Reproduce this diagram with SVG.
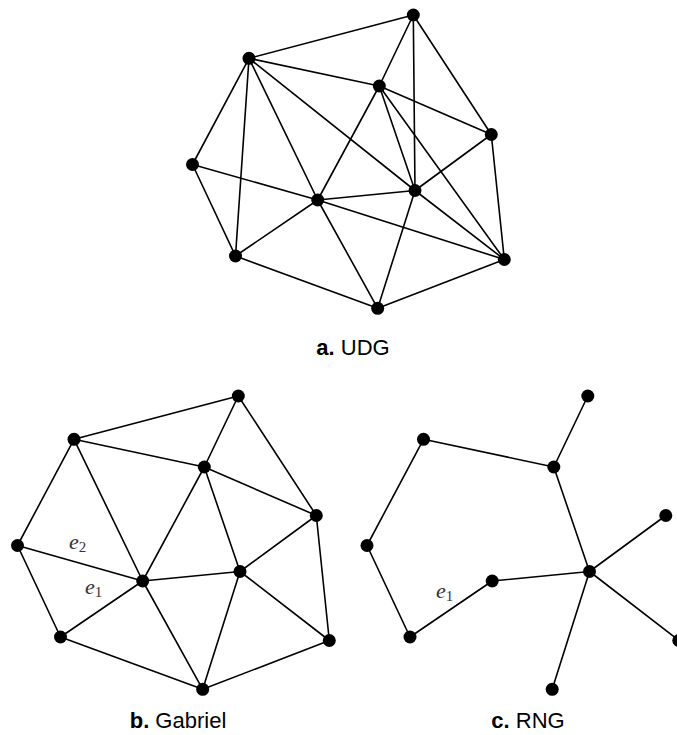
<svg xmlns="http://www.w3.org/2000/svg" width="677" height="735" viewBox="0 0 677 735">
  <style>
    .edges line { stroke: #000; stroke-width: 1.6; stroke-linecap: round; }
    .node circle { fill: #000; }
    .caption { font-family: "Liberation Sans", Arial, sans-serif; font-size: 22px; fill: #000; text-anchor: middle; }
    .caption .tag { font-weight: bold; }
    .elabel { font-family: "Liberation Serif", "Times New Roman", serif; font-size: 22px; fill: #333; }
    .elabel .var { font-style: italic; }
    .elabel .sub { font-size: 15px; }
  </style>
  <rect width="677" height="735" fill="#fff"/>

  <!-- a. Unit disk graph -->
  <g id="udg">
    <g class="edges" id="udg-edges">
      <line x1="413.3" y1="15" x2="249" y2="58.3"/>
      <line x1="413.3" y1="15" x2="379.3" y2="86"/>
      <line x1="413.3" y1="15" x2="415" y2="190.5"/>
      <line x1="413.3" y1="15" x2="491.3" y2="134.5"/>
      <line x1="249" y1="58.3" x2="379.3" y2="86"/>
      <line x1="249" y1="58.3" x2="415" y2="190.5"/>
      <line x1="249" y1="58.3" x2="317.7" y2="200"/>
      <line x1="249" y1="58.3" x2="235.5" y2="256"/>
      <line x1="249" y1="58.3" x2="192.5" y2="164.5"/>
      <line x1="379.3" y1="86" x2="491.3" y2="134.5"/>
      <line x1="379.3" y1="86" x2="317.7" y2="200"/>
      <line x1="379.3" y1="86" x2="415" y2="190.5"/>
      <line x1="379.3" y1="86" x2="504.3" y2="259.5"/>
      <line x1="491.3" y1="134.5" x2="415" y2="190.5"/>
      <line x1="491.3" y1="134.5" x2="504.3" y2="259.5"/>
      <line x1="192.5" y1="164.5" x2="317.7" y2="200"/>
      <line x1="192.5" y1="164.5" x2="235.5" y2="256"/>
      <line x1="317.7" y1="200" x2="235.5" y2="256"/>
      <line x1="317.7" y1="200" x2="415" y2="190.5"/>
      <line x1="317.7" y1="200" x2="377.7" y2="308.3"/>
      <line x1="317.7" y1="200" x2="504.3" y2="259.5"/>
      <line x1="415" y1="190.5" x2="504.3" y2="259.5"/>
      <line x1="415" y1="190.5" x2="377.7" y2="308.3"/>
      <line x1="235.5" y1="256" x2="377.7" y2="308.3"/>
      <line x1="504.3" y1="259.5" x2="377.7" y2="308.3"/>
    </g>
    <g id="udg-A" class="node"><circle cx="413.3" cy="15" r="6.5"/></g>
    <g id="udg-B" class="node"><circle cx="249" cy="58.3" r="6.5"/></g>
    <g id="udg-C" class="node"><circle cx="379.3" cy="86" r="6.5"/></g>
    <g id="udg-D" class="node"><circle cx="491.3" cy="134.5" r="6.5"/></g>
    <g id="udg-E" class="node"><circle cx="192.5" cy="164.5" r="6.5"/></g>
    <g id="udg-F" class="node"><circle cx="317.7" cy="200" r="6.5"/></g>
    <g id="udg-G" class="node"><circle cx="415" cy="190.5" r="6.5"/></g>
    <g id="udg-H" class="node"><circle cx="235.5" cy="256" r="6.5"/></g>
    <g id="udg-I" class="node"><circle cx="504.3" cy="259.5" r="6.5"/></g>
    <g id="udg-J" class="node"><circle cx="377.7" cy="308.3" r="6.5"/></g>
    <text class="caption" x="353" y="355"><tspan class="tag">a.</tspan> UDG</text>
  </g>

  <!-- b. Gabriel graph (same point set, shifted) -->
  <g id="gabriel">
    <g transform="translate(-175,381)">
      <g class="edges" id="gabriel-edges">
        <line x1="413.3" y1="15" x2="249" y2="58.3"/>
        <line x1="413.3" y1="15" x2="379.3" y2="86"/>
        <line x1="413.3" y1="15" x2="491.3" y2="134.5"/>
        <line x1="249" y1="58.3" x2="379.3" y2="86"/>
        <line x1="249" y1="58.3" x2="317.7" y2="200"/>
        <line x1="249" y1="58.3" x2="192.5" y2="164.5"/>
        <line x1="379.3" y1="86" x2="491.3" y2="134.5"/>
        <line x1="379.3" y1="86" x2="317.7" y2="200"/>
        <line x1="379.3" y1="86" x2="415" y2="190.5"/>
        <line x1="491.3" y1="134.5" x2="415" y2="190.5"/>
        <line x1="491.3" y1="134.5" x2="504.3" y2="259.5"/>
        <line x1="192.5" y1="164.5" x2="317.7" y2="200"/>
        <line x1="192.5" y1="164.5" x2="235.5" y2="256"/>
        <line x1="317.7" y1="200" x2="235.5" y2="256"/>
        <line x1="317.7" y1="200" x2="415" y2="190.5"/>
        <line x1="317.7" y1="200" x2="377.7" y2="308.3"/>
        <line x1="415" y1="190.5" x2="504.3" y2="259.5"/>
        <line x1="415" y1="190.5" x2="377.7" y2="308.3"/>
        <line x1="235.5" y1="256" x2="377.7" y2="308.3"/>
        <line x1="504.3" y1="259.5" x2="377.7" y2="308.3"/>
      </g>
      <g id="gabriel-A" class="node"><circle cx="413.3" cy="15" r="6.5"/></g>
      <g id="gabriel-B" class="node"><circle cx="249" cy="58.3" r="6.5"/></g>
      <g id="gabriel-C" class="node"><circle cx="379.3" cy="86" r="6.5"/></g>
      <g id="gabriel-D" class="node"><circle cx="491.3" cy="134.5" r="6.5"/></g>
      <g id="gabriel-E" class="node"><circle cx="192.5" cy="164.5" r="6.5"/></g>
      <g id="gabriel-F" class="node"><circle cx="317.7" cy="200" r="6.5"/></g>
      <g id="gabriel-G" class="node"><circle cx="415" cy="190.5" r="6.5"/></g>
      <g id="gabriel-H" class="node"><circle cx="235.5" cy="256" r="6.5"/></g>
      <g id="gabriel-I" class="node"><circle cx="504.3" cy="259.5" r="6.5"/></g>
      <g id="gabriel-J" class="node"><circle cx="377.7" cy="308.3" r="6.5"/></g>
    </g>
    <text class="elabel" x="69" y="549"><tspan class="var">e</tspan><tspan class="sub" dy="3">2</tspan></text>
    <text class="elabel" x="85" y="594"><tspan class="var">e</tspan><tspan class="sub" dy="3">1</tspan></text>
    <text class="caption" x="178" y="728"><tspan class="tag">b.</tspan> Gabriel</text>
  </g>

  <!-- c. Relative neighbourhood graph (same point set, shifted) -->
  <g id="rng">
    <g transform="translate(174.5,381)">
      <g class="edges" id="rng-edges">
        <line x1="413.3" y1="15" x2="379.3" y2="86"/>
        <line x1="249" y1="58.3" x2="379.3" y2="86"/>
        <line x1="249" y1="58.3" x2="192.5" y2="164.5"/>
        <line x1="379.3" y1="86" x2="415" y2="190.5"/>
        <line x1="491.3" y1="134.5" x2="415" y2="190.5"/>
        <line x1="192.5" y1="164.5" x2="235.5" y2="256"/>
        <line x1="317.7" y1="200" x2="415" y2="190.5"/>
        <line x1="317.7" y1="200" x2="235.5" y2="256"/>
        <line x1="415" y1="190.5" x2="504.3" y2="259.5"/>
        <line x1="415" y1="190.5" x2="377.7" y2="308.3"/>
      </g>
      <g id="rng-A" class="node"><circle cx="413.3" cy="15" r="6.5"/></g>
      <g id="rng-B" class="node"><circle cx="249" cy="58.3" r="6.5"/></g>
      <g id="rng-C" class="node"><circle cx="379.3" cy="86" r="6.5"/></g>
      <g id="rng-D" class="node"><circle cx="491.3" cy="134.5" r="6.5"/></g>
      <g id="rng-E" class="node"><circle cx="192.5" cy="164.5" r="6.5"/></g>
      <g id="rng-F" class="node"><circle cx="317.7" cy="200" r="6.5"/></g>
      <g id="rng-G" class="node"><circle cx="415" cy="190.5" r="6.5"/></g>
      <g id="rng-H" class="node"><circle cx="235.5" cy="256" r="6.5"/></g>
      <g id="rng-I" class="node"><circle cx="504.3" cy="259.5" r="6.5"/></g>
      <g id="rng-J" class="node"><circle cx="377.7" cy="308.3" r="6.5"/></g>
    </g>
    <text class="elabel" x="436" y="598"><tspan class="var">e</tspan><tspan class="sub" dy="3">1</tspan></text>
    <text class="caption" x="528" y="728"><tspan class="tag">c.</tspan> RNG</text>
  </g>
</svg>
